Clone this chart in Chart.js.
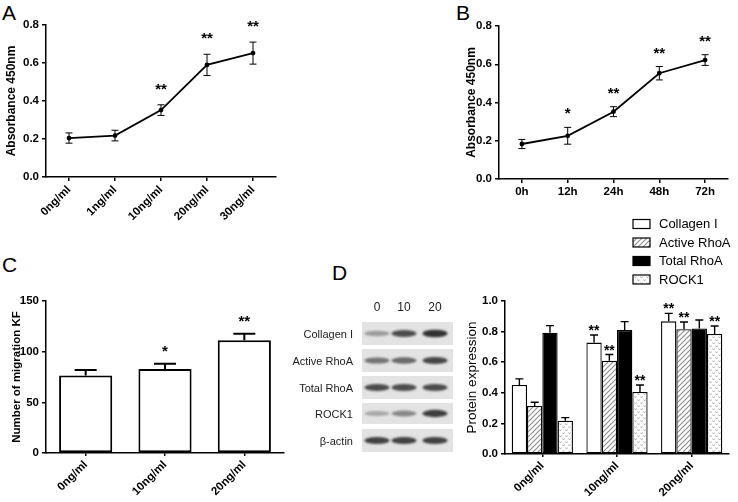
<!DOCTYPE html>
<html>
<head>
<meta charset="utf-8">
<script src="https://cdn.jsdelivr.net/npm/chart.js@4.4.1/dist/chart.umd.min.js"></script>
<style>
  html, body { margin: 0; padding: 0; background: #fff; }
  #fig { position: relative; width: 738px; height: 502px; overflow: hidden; font-family: "Liberation Sans", Arial, sans-serif; color: #000; }
  #fig canvas { position: absolute; }
  .letter { position: absolute; font-size: 21px; line-height: 21px; }
  .blot-label { position: absolute; left: 250px; width: 103px; text-align: right; font-size: 11px; line-height: 14px; color: #222; }
  .lane-label { position: absolute; width: 30px; text-align: center; font-size: 12px; line-height: 14px; color: #222; }
</style>
</head>
<body>
<div id="fig">
  <div class="letter" style="left:2px;top:2px">A</div>
  <div class="letter" style="left:456px;top:2px">B</div>
  <div class="letter" style="left:2px;top:254px">C</div>
  <div class="letter" style="left:332px;top:262px">D</div>

  <canvas id="chartA" width="290" height="250" style="left:0;top:0"></canvas>
  <canvas id="chartB" width="278" height="215" style="left:460px;top:0"></canvas>
  <canvas id="chartC" width="284" height="252" style="left:6px;top:250px"></canvas>
  <canvas id="chartD" width="278" height="292" style="left:460px;top:210px"></canvas>
  <canvas id="blot" width="91" height="131" style="left:362px;top:322px"></canvas>
  <div id="blotText"></div>
</div>

<script>
// ---- data ----
const doseLabelsA = ["0ng/ml", "1ng/ml", "10ng/ml", "20ng/ml", "30ng/ml"];
const absorbanceA = [0.205, 0.218, 0.352, 0.59, 0.652];
const absorbanceErrA = [0.027, 0.028, 0.028, 0.056, 0.058];
const starsA = ["", "", "**", "**", "**"];

const timeLabelsB = ["0h", "12h", "24h", "48h", "72h"];
const absorbanceB = [0.183, 0.226, 0.352, 0.553, 0.622];
const absorbanceErrB = [0.024, 0.044, 0.026, 0.035, 0.028];
const starsB = ["", "*", "**", "**", "**"];

const doseLabelsC = ["0ng/ml", "10ng/ml", "20ng/ml"];
const migrationC = [76.5, 83, 111.3];
const migrationErrC = [5.5, 5, 6.5];
const starsC = ["", "*", "**"];

const doseLabelsD = ["0ng/ml", "10ng/ml", "20ng/ml"];
const proteinNames = ["Collagen I", "Active RhoA", "Total RhoA", "ROCK1"];
const collagenD = [0.451, 0.728, 0.867];
const collagenErrD = [0.04, 0.05, 0.052];
const activeRhoaD = [0.314, 0.61, 0.815];
const activeRhoaErrD = [0.024, 0.04, 0.048];
const totalRhoaD = [0.793, 0.81, 0.821];
const totalRhoaErrD = [0.046, 0.055, 0.055];
const rock1D = [0.218, 0.405, 0.784];
const rock1ErrD = [0.02, 0.046, 0.053];
const starsCollagenD = ["", "**", "**"];
const starsActiveD = ["", "**", "**"];
const starsTotalD = ["", "", ""];
const starsRock1D = ["", "**", "**"];

const blotRows = ["Collagen I", "Active RhoA", "Total RhoA", "ROCK1", "β-actin"];
const blotLanes = ["0", "10", "20"];
// band darkness per row, per lane
const blotIntensity = [
  [0.35, 0.75, 0.88],
  [0.55, 0.6, 0.78],
  [0.75, 0.75, 0.75],
  [0.3, 0.45, 0.82],
  [0.8, 0.8, 0.8],
];

// ---- shared bits ----
const FONT = "'Liberation Sans', Arial, sans-serif";
Chart.defaults.font.family = FONT;
Chart.defaults.color = "#000";
Chart.defaults.animation = false;

// error bars + significance stars, all from the scales
const errorBars = {
  id: "errorBars",
  afterDatasetsDraw(chart, args, opts) {
    const ctx = chart.ctx;
    const y = chart.scales.y;
    ctx.save();
    chart.data.datasets.forEach((ds, i) => {
      if (!ds.errors) return;
      chart.getDatasetMeta(i).data.forEach((el, j) => {
        const v = ds.data[j], e = ds.errors[j];
        const top = y.getPixelForValue(v + e);
        const bot = opts.upOnly ? el.y : y.getPixelForValue(v - e);
        ctx.strokeStyle = "#000";
        ctx.lineWidth = opts.lineWidth || 1;
        ctx.beginPath();
        ctx.moveTo(el.x, top);
        ctx.lineTo(el.x, bot);
        ctx.moveTo(el.x - opts.cap / 2, top);
        ctx.lineTo(el.x + opts.cap / 2, top);
        if (!opts.upOnly) {
          ctx.moveTo(el.x - opts.cap / 2, bot);
          ctx.lineTo(el.x + opts.cap / 2, bot);
        }
        ctx.stroke();
        if (ds.stars && ds.stars[j]) {
          ctx.fillStyle = "#000";
          ctx.font = "bold " + (opts.starSize || 15) + "px " + FONT;
          ctx.textAlign = "center";
          ctx.textBaseline = "alphabetic";
          ctx.fillText(ds.stars[j], el.x, top - opts.starOffset);
        }
      });
    });
    ctx.restore();
  },
};

function xAxis(height, rotate, tickLength) {
  return {
    type: "category",
    offset: true,
    afterFit: (s) => { s.height = height; },
    grid: { drawOnChartArea: false, offset: false, tickLength: tickLength, color: "#000", lineWidth: 1.5 },
    border: { color: "#000", width: 1.5 },
    ticks: { font: { size: 11.5, weight: "bold" }, minRotation: rotate, maxRotation: rotate, autoSkip: false, padding: 2 },
  };
}

function yAxis(width, max, step, decimals, title, titleBold, titleSize) {
  return {
    min: 0,
    max: max,
    afterFit: (s) => { s.width = width; },
    grid: { drawOnChartArea: false, tickLength: 4, color: "#000", lineWidth: 1.5 },
    border: { color: "#000", width: 1.5 },
    ticks: { stepSize: step, font: { size: 11.5, weight: "bold" }, padding: 3, callback: (v) => v.toFixed(decimals) },
    title: { display: true, text: title, font: { size: titleSize, weight: titleBold ? "bold" : "normal" }, padding: { top: 4, bottom: 0 } },
  };
}

// ---- A ----
new Chart(document.getElementById("chartA"), {
  type: "line",
  data: {
    labels: doseLabelsA,
    datasets: [{
      data: absorbanceA, errors: absorbanceErrA, stars: starsA,
      borderColor: "#000", borderWidth: 1.8, pointRadius: 1.5, pointBackgroundColor: "#000", tension: 0,
    }],
  },
  options: {
    responsive: false,
    layout: { padding: { top: 25, right: 14, left: 0, bottom: 0 } },
    plugins: { legend: { display: false }, tooltip: { enabled: false }, errorBars: { cap: 7, starOffset: 11 } },
    scales: { x: xAxis(73, 45, 4), y: yAxis(46, 0.8, 0.2, 1, "Absorbance 450nm", true, 12) },
  },
  plugins: [errorBars],
});

// ---- B ----
new Chart(document.getElementById("chartB"), {
  type: "line",
  data: {
    labels: timeLabelsB,
    datasets: [{
      data: absorbanceB, errors: absorbanceErrB, stars: starsB,
      borderColor: "#000", borderWidth: 1.8, pointRadius: 1.5, pointBackgroundColor: "#000", tension: 0,
    }],
  },
  options: {
    responsive: false,
    layout: { padding: { top: 26, right: 10, left: 0, bottom: 0 } },
    plugins: { legend: { display: false }, tooltip: { enabled: false }, errorBars: { cap: 7, starOffset: 9 } },
    scales: { x: xAxis(36, 0, 4), y: yAxis(39, 0.8, 0.2, 1, "Absorbance 450nm", true, 12) },
  },
  plugins: [errorBars],
});

// ---- C ----
new Chart(document.getElementById("chartC"), {
  type: "bar",
  data: {
    labels: doseLabelsC,
    datasets: [{
      data: migrationC, errors: migrationErrC, stars: starsC,
      backgroundColor: "#fff", borderColor: "#000", borderWidth: 2, borderSkipped: false,
      categoryPercentage: 1, barPercentage: 0.67,
    }],
  },
  options: {
    responsive: false,
    layout: { padding: { top: 51, right: 6, left: 0, bottom: 0 } },
    plugins: { legend: { display: false }, tooltip: { enabled: false }, errorBars: { cap: 22, lineWidth: 2, upOnly: true, starOffset: 8 } },
    scales: { x: xAxis(49, 45, 3), y: yAxis(40, 150, 50, 0, "Number of migration KF", true, 11.5) },
  },
  plugins: [errorBars],
});

// ---- D bars ----
function makeHatch(ctx) {
  const c = document.createElement("canvas");
  c.width = 5; c.height = 5;
  const g = c.getContext("2d");
  g.fillStyle = "#fff";
  g.fillRect(0, 0, 5, 5);
  g.strokeStyle = "#8c8c8c";
  g.lineWidth = 1.1;
  g.beginPath();
  g.moveTo(-1, 6); g.lineTo(6, -1);
  g.moveTo(-3, 3); g.lineTo(3, -3);
  g.moveTo(2, 8); g.lineTo(8, 2);
  g.stroke();
  return ctx.createPattern(c, "repeat");
}
function makeDots(ctx) {
  const c = document.createElement("canvas");
  c.width = 6; c.height = 6;
  const g = c.getContext("2d");
  g.fillStyle = "#fff";
  g.fillRect(0, 0, 6, 6);
  g.strokeStyle = "#a0a0a0";
  g.lineWidth = 0.8;
  g.beginPath();
  g.moveTo(0.5, 0.5); g.lineTo(1.5, 2); g.lineTo(2.5, 0.5);
  g.moveTo(3.5, 3.5); g.lineTo(4.5, 5); g.lineTo(5.5, 3.5);
  g.stroke();
  return ctx.createPattern(c, "repeat");
}

const canvasD = document.getElementById("chartD");
const ctxD = canvasD.getContext("2d");
const fillsD = ["#fff", makeHatch(ctxD), "#000", makeDots(ctxD)];
const valuesD = [collagenD, activeRhoaD, totalRhoaD, rock1D];
const errsD = [collagenErrD, activeRhoaErrD, totalRhoaErrD, rock1ErrD];
const starsD = [starsCollagenD, starsActiveD, starsTotalD, starsRock1D];

const legendD = {
  id: "legendD",
  afterDraw(chart) {
    const ctx = chart.ctx;
    ctx.save();
    chart.data.datasets.forEach((ds, i) => {
      const yc = 14 + i * 18.5;
      ctx.fillStyle = ds.backgroundColor;
      ctx.fillRect(173, yc - 4.5, 17, 9);
      ctx.strokeStyle = "#000";
      ctx.lineWidth = 1.2;
      ctx.strokeRect(173, yc - 4.5, 17, 9);
      ctx.fillStyle = "#000";
      ctx.font = "13px " + FONT;
      ctx.textAlign = "left";
      ctx.textBaseline = "middle";
      ctx.fillText(ds.label, 199, yc + 0.5);
    });
    ctx.restore();
  },
};

new Chart(canvasD, {
  type: "bar",
  data: {
    labels: doseLabelsD,
    datasets: proteinNames.map((name, i) => ({
      label: name,
      data: valuesD[i], errors: errsD[i], stars: starsD[i],
      backgroundColor: fillsD[i], borderColor: "#000", borderWidth: 1.3, borderSkipped: false,
      categoryPercentage: 0.82, barPercentage: 1,
    })),
  },
  options: {
    responsive: false,
    layout: { padding: { top: 91, right: 9, left: 0, bottom: 0 } },
    plugins: { legend: { display: false }, tooltip: { enabled: false }, errorBars: { cap: 8, lineWidth: 1.4, upOnly: true, starOffset: 0, starSize: 14 } },
    scales: { x: xAxis(48, 45, 3), y: yAxis(45, 1.0, 0.2, 1, "Protein expression", false, 13.5) },
  },
  plugins: [errorBars, legendD],
});

// ---- D western blot strips ----
const blot = document.getElementById("blot").getContext("2d");
const rowTops = [0, 27, 54, 81, 107];
const rowHeights = [23, 23, 23, 21, 23];
const laneX = [15, 42, 73];
blotRows.forEach((name, r) => {
  const top = rowTops[r], h = rowHeights[r];
  blot.fillStyle = "#e3e3e3";
  blot.fillRect(0, top, 91, h);
  blot.save();
  blot.filter = "blur(1.3px)";
  blotIntensity[r].forEach((d, l) => {
    blot.fillStyle = "rgba(25,25,25," + d + ")";
    blot.beginPath();
    blot.ellipse(laneX[l], top + h / 2, 12.5, 2 + d * 2, 0, 0, Math.PI * 2);
    blot.fill();
  });
  blot.restore();
});

const blotText = document.getElementById("blotText");
blotRows.forEach((name, r) => {
  const d = document.createElement("div");
  d.className = "blot-label";
  d.textContent = name;
  d.style.top = (322 + rowTops[r] + rowHeights[r] / 2 - 7) + "px";
  blotText.appendChild(d);
});
blotLanes.forEach((lane, l) => {
  const d = document.createElement("div");
  d.className = "lane-label";
  d.textContent = lane;
  d.style.left = (362 + laneX[l] - 15) + "px";
  d.style.top = "300px";
  blotText.appendChild(d);
});
</script>
</body>
</html>
